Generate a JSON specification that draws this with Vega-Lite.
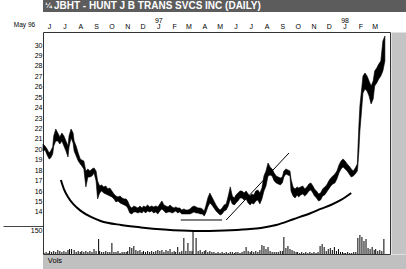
{
 "$schema": "https://vega.github.io/schema/vega-lite/v6.json",
 "padding": 0,
 "background": "white",
 "config": {"font": "Liberation Sans", "view": {"stroke": null}, "axisY": {"labelOverlap": false, "minExtent": 0}, "axisX": {"labelOverlap": false}},
 "datasets": {
  "price": [
   {"d":"1996-05-20","h":20.51,"l":19.84},{"d":"1996-05-24","h":20.32,"l":19.94},{"d":"1996-05-28","h":20.04,"l":19.46},{"d":"1996-06-01","h":19.65,"l":19.08},{"d":"1996-06-04","h":19.84,"l":19.17},{"d":"1996-06-08","h":20.23,"l":19.56},{"d":"1996-06-10","h":21.28,"l":20.32},{"d":"1996-06-14","h":21.95,"l":20.80},{"d":"1996-06-18","h":21.57,"l":20.80},{"d":"1996-06-22","h":21.19,"l":20.51},{"d":"1996-06-26","h":21.57,"l":20.80},{"d":"1996-06-30","h":21.28,"l":20.32},{"d":"1996-07-04","h":20.80,"l":19.84},{"d":"1996-07-08","h":20.32,"l":19.27},{"d":"1996-07-10","h":21.28,"l":20.23},{"d":"1996-07-14","h":21.95,"l":21.09},{"d":"1996-07-18","h":21.57,"l":20.61},{"d":"1996-07-20","h":20.80,"l":19.84},{"d":"1996-07-24","h":20.32,"l":19.37},{"d":"1996-07-28","h":19.65,"l":18.89},{"d":"1996-08-01","h":19.08,"l":18.60},{"d":"1996-08-04","h":18.98,"l":18.41},{"d":"1996-08-08","h":18.89,"l":18.12},{"d":"1996-08-12","h":17.93,"l":16.40},{"d":"1996-08-16","h":18.12,"l":17.35},{"d":"1996-08-20","h":17.93,"l":17.35},{"d":"1996-08-24","h":18.12,"l":17.45},{"d":"1996-08-28","h":18.22,"l":17.74},{"d":"1996-09-01","h":17.93,"l":16.97},{"d":"1996-09-04","h":16.97,"l":15.25},{"d":"1996-09-08","h":16.49,"l":15.82},{"d":"1996-09-12","h":16.59,"l":16.01},{"d":"1996-09-16","h":16.40,"l":15.82},{"d":"1996-09-20","h":16.49,"l":15.72},{"d":"1996-09-24","h":16.20,"l":15.63},{"d":"1996-09-28","h":16.30,"l":15.53},{"d":"1996-10-02","h":16.01,"l":15.44},{"d":"1996-10-06","h":15.72,"l":15.25},{"d":"1996-10-10","h":15.53,"l":14.96},{"d":"1996-10-14","h":15.44,"l":15.05},{"d":"1996-10-18","h":15.53,"l":14.86},{"d":"1996-10-22","h":15.34,"l":14.77},{"d":"1996-10-26","h":15.25,"l":14.67},{"d":"1996-10-30","h":15.25,"l":14.57},{"d":"1996-11-02","h":15.05,"l":14.38},{"d":"1996-11-06","h":14.57,"l":13.90},{"d":"1996-11-10","h":14.38,"l":13.81},{"d":"1996-11-14","h":14.57,"l":14.00},{"d":"1996-11-18","h":14.48,"l":14.00},{"d":"1996-11-22","h":14.38,"l":13.90},{"d":"1996-11-26","h":14.57,"l":14.00},{"d":"1996-11-30","h":14.38,"l":13.90},{"d":"1996-12-03","h":14.57,"l":14.10},{"d":"1996-12-07","h":14.48,"l":13.90},{"d":"1996-12-11","h":14.67,"l":14.10},{"d":"1996-12-15","h":14.48,"l":14.00},{"d":"1996-12-19","h":14.57,"l":14.10},{"d":"1996-12-23","h":14.48,"l":13.90},{"d":"1996-12-27","h":14.57,"l":14.00},{"d":"1996-12-31","h":14.48,"l":13.81},{"d":"1997-01-04","h":14.77,"l":14.10},{"d":"1997-01-08","h":15.05,"l":14.29},{"d":"1997-01-12","h":14.67,"l":14.10},{"d":"1997-01-16","h":14.57,"l":13.90},{"d":"1997-01-20","h":14.48,"l":14.00},{"d":"1997-01-24","h":14.67,"l":14.00},{"d":"1997-01-28","h":14.48,"l":13.90},{"d":"1997-02-01","h":14.38,"l":14.00},{"d":"1997-02-04","h":14.48,"l":14.10},{"d":"1997-02-08","h":14.38,"l":13.90},{"d":"1997-02-12","h":14.38,"l":14.00},{"d":"1997-02-16","h":14.19,"l":13.81},{"d":"1997-02-20","h":14.29,"l":13.81},{"d":"1997-02-24","h":14.19,"l":13.81},{"d":"1997-02-28","h":14.19,"l":13.81},{"d":"1997-03-04","h":14.29,"l":13.81},{"d":"1997-03-08","h":14.48,"l":13.90},{"d":"1997-03-12","h":14.57,"l":14.00},{"d":"1997-03-16","h":14.48,"l":13.90},{"d":"1997-03-20","h":14.38,"l":13.90},{"d":"1997-03-24","h":14.38,"l":13.81},{"d":"1997-03-28","h":14.29,"l":13.81},{"d":"1997-04-01","h":14.10,"l":13.62},{"d":"1997-04-04","h":14.57,"l":13.90},{"d":"1997-04-08","h":15.34,"l":14.48},{"d":"1997-04-12","h":15.82,"l":14.86},{"d":"1997-04-16","h":15.44,"l":14.67},{"d":"1997-04-20","h":15.05,"l":14.38},{"d":"1997-04-24","h":14.67,"l":14.10},{"d":"1997-04-28","h":14.38,"l":13.90},{"d":"1997-05-02","h":14.19,"l":13.71},{"d":"1997-05-06","h":14.38,"l":13.81},{"d":"1997-05-10","h":14.67,"l":14.10},{"d":"1997-05-14","h":14.77,"l":14.19},{"d":"1997-05-18","h":15.53,"l":14.57},{"d":"1997-05-22","h":16.40,"l":15.25},{"d":"1997-05-26","h":15.53,"l":14.77},{"d":"1997-05-30","h":15.34,"l":14.67},{"d":"1997-06-02","h":15.63,"l":14.86},{"d":"1997-06-06","h":15.82,"l":15.05},{"d":"1997-06-10","h":16.01,"l":15.34},{"d":"1997-06-14","h":16.01,"l":15.34},{"d":"1997-06-18","h":15.82,"l":15.15},{"d":"1997-06-22","h":16.01,"l":15.25},{"d":"1997-06-26","h":15.72,"l":14.86},{"d":"1997-06-30","h":15.53,"l":14.67},{"d":"1997-07-03","h":15.72,"l":14.86},{"d":"1997-07-07","h":15.63,"l":14.77},{"d":"1997-07-11","h":16.01,"l":15.05},{"d":"1997-07-15","h":16.11,"l":15.15},{"d":"1997-07-19","h":15.82,"l":14.77},{"d":"1997-07-23","h":16.30,"l":15.25},{"d":"1997-07-27","h":17.45,"l":16.01},{"d":"1997-07-31","h":17.93,"l":16.49},{"d":"1997-08-04","h":18.69,"l":17.45},{"d":"1997-08-08","h":18.31,"l":17.54},{"d":"1997-08-12","h":18.12,"l":17.45},{"d":"1997-08-16","h":17.74,"l":16.97},{"d":"1997-08-20","h":17.45,"l":16.78},{"d":"1997-08-24","h":17.35,"l":16.68},{"d":"1997-08-28","h":17.26,"l":16.59},{"d":"1997-09-01","h":17.35,"l":16.78},{"d":"1997-09-04","h":17.93,"l":17.35},{"d":"1997-09-08","h":18.12,"l":17.64},{"d":"1997-09-12","h":18.02,"l":17.54},{"d":"1997-09-16","h":17.93,"l":17.45},{"d":"1997-09-18","h":17.16,"l":16.01},{"d":"1997-09-22","h":16.40,"l":15.53},{"d":"1997-09-26","h":16.20,"l":15.34},{"d":"1997-09-30","h":16.40,"l":15.63},{"d":"1997-10-03","h":16.30,"l":15.44},{"d":"1997-10-07","h":16.40,"l":15.63},{"d":"1997-10-11","h":16.49,"l":15.72},{"d":"1997-10-15","h":16.20,"l":15.53},{"d":"1997-10-19","h":16.40,"l":15.72},{"d":"1997-10-23","h":16.68,"l":16.01},{"d":"1997-10-27","h":16.78,"l":16.11},{"d":"1997-10-31","h":16.49,"l":15.82},{"d":"1997-11-03","h":16.20,"l":15.53},{"d":"1997-11-07","h":16.01,"l":15.34},{"d":"1997-11-11","h":15.72,"l":15.05},{"d":"1997-11-15","h":15.82,"l":15.15},{"d":"1997-11-19","h":16.20,"l":15.53},{"d":"1997-11-23","h":16.40,"l":15.63},{"d":"1997-11-27","h":16.59,"l":15.92},{"d":"1997-12-01","h":16.97,"l":16.20},{"d":"1997-12-05","h":17.26,"l":16.49},{"d":"1997-12-09","h":17.45,"l":16.68},{"d":"1997-12-13","h":17.64,"l":16.78},{"d":"1997-12-17","h":17.93,"l":17.16},{"d":"1997-12-21","h":18.50,"l":17.74},{"d":"1997-12-25","h":18.89,"l":18.12},{"d":"1997-12-29","h":19.08,"l":18.31},{"d":"1998-01-02","h":18.89,"l":18.12},{"d":"1998-01-06","h":18.60,"l":17.93},{"d":"1998-01-10","h":18.41,"l":17.64},{"d":"1998-01-14","h":18.12,"l":17.35},{"d":"1998-01-18","h":17.93,"l":17.45},{"d":"1998-01-22","h":18.22,"l":17.64},{"d":"1998-01-26","h":18.60,"l":17.93},{"d":"1998-01-27","h":19.84,"l":18.41},{"d":"1998-01-29","h":22.24,"l":19.84},{"d":"1998-01-31","h":24.15,"l":21.76},{"d":"1998-02-04","h":26.07,"l":24.15},{"d":"1998-02-06","h":27.03,"l":25.40},{"d":"1998-02-10","h":27.32,"l":25.78},{"d":"1998-02-14","h":27.03,"l":25.59},{"d":"1998-02-18","h":26.55,"l":25.11},{"d":"1998-02-22","h":26.07,"l":24.35},{"d":"1998-02-26","h":26.55,"l":24.83},{"d":"1998-03-01","h":27.51,"l":26.07},{"d":"1998-03-05","h":27.80,"l":26.36},{"d":"1998-03-09","h":28.18,"l":26.74},{"d":"1998-03-13","h":28.47,"l":27.03},{"d":"1998-03-17","h":30.38,"l":27.51},{"d":"1998-03-21","h":30.86,"l":28.47}
  ],
  "vol": [
   {"d":"1996-05-22","v":5},{"d":"1996-05-26","v":11},{"d":"1996-05-30","v":5},{"d":"1996-06-02","v":16},{"d":"1996-06-06","v":11},{"d":"1996-06-10","v":16},{"d":"1996-06-14","v":11},{"d":"1996-06-18","v":21},{"d":"1996-06-22","v":16},{"d":"1996-06-26","v":11},{"d":"1996-06-30","v":16},{"d":"1996-07-04","v":11},{"d":"1996-07-08","v":21},{"d":"1996-07-11","v":27},{"d":"1996-07-15","v":27},{"d":"1996-07-20","v":21},{"d":"1996-07-24","v":11},{"d":"1996-07-28","v":16},{"d":"1996-08-01","v":11},{"d":"1996-08-04","v":16},{"d":"1996-08-08","v":11},{"d":"1996-08-12","v":16},{"d":"1996-08-16","v":11},{"d":"1996-08-20","v":16},{"d":"1996-08-24","v":11},{"d":"1996-08-28","v":27},{"d":"1996-09-01","v":16},{"d":"1996-09-06","v":80},{"d":"1996-09-08","v":16},{"d":"1996-09-12","v":11},{"d":"1996-09-16","v":11},{"d":"1996-09-20","v":16},{"d":"1996-09-24","v":11},{"d":"1996-09-28","v":11},{"d":"1996-10-02","v":59},{"d":"1996-10-06","v":11},{"d":"1996-10-10","v":11},{"d":"1996-10-14","v":16},{"d":"1996-10-18","v":5},{"d":"1996-10-22","v":11},{"d":"1996-10-26","v":11},{"d":"1996-10-30","v":11},{"d":"1996-11-02","v":16},{"d":"1996-11-06","v":38},{"d":"1996-11-10","v":32},{"d":"1996-11-14","v":43},{"d":"1996-11-18","v":21},{"d":"1996-11-22","v":16},{"d":"1996-11-26","v":21},{"d":"1996-11-30","v":11},{"d":"1996-12-03","v":16},{"d":"1996-12-07","v":11},{"d":"1996-12-11","v":16},{"d":"1996-12-15","v":11},{"d":"1996-12-19","v":16},{"d":"1996-12-23","v":11},{"d":"1996-12-27","v":16},{"d":"1996-12-31","v":21},{"d":"1997-01-04","v":16},{"d":"1997-01-08","v":21},{"d":"1997-01-12","v":11},{"d":"1997-01-16","v":21},{"d":"1997-01-20","v":16},{"d":"1997-01-24","v":27},{"d":"1997-01-28","v":11},{"d":"1997-02-01","v":16},{"d":"1997-02-04","v":11},{"d":"1997-02-08","v":38},{"d":"1997-02-12","v":11},{"d":"1997-02-16","v":16},{"d":"1997-02-20","v":86},{"d":"1997-02-24","v":16},{"d":"1997-02-28","v":59},{"d":"1997-03-04","v":16},{"d":"1997-03-08","v":16},{"d":"1997-03-10","v":118},{"d":"1997-03-16","v":86},{"d":"1997-03-20","v":16},{"d":"1997-03-24","v":21},{"d":"1997-03-28","v":11},{"d":"1997-04-01","v":16},{"d":"1997-04-04","v":21},{"d":"1997-04-08","v":11},{"d":"1997-04-12","v":16},{"d":"1997-04-16","v":11},{"d":"1997-04-20","v":11},{"d":"1997-04-24","v":5},{"d":"1997-04-28","v":11},{"d":"1997-05-02","v":5},{"d":"1997-05-06","v":11},{"d":"1997-05-10","v":5},{"d":"1997-05-14","v":11},{"d":"1997-05-18","v":5},{"d":"1997-05-22","v":11},{"d":"1997-05-26","v":11},{"d":"1997-05-30","v":5},{"d":"1997-06-02","v":11},{"d":"1997-06-06","v":11},{"d":"1997-06-10","v":5},{"d":"1997-06-14","v":11},{"d":"1997-06-18","v":16},{"d":"1997-06-22","v":38},{"d":"1997-06-26","v":16},{"d":"1997-06-30","v":11},{"d":"1997-07-03","v":16},{"d":"1997-07-07","v":11},{"d":"1997-07-11","v":16},{"d":"1997-07-15","v":11},{"d":"1997-07-19","v":21},{"d":"1997-07-23","v":48},{"d":"1997-07-27","v":43},{"d":"1997-07-31","v":27},{"d":"1997-08-04","v":38},{"d":"1997-08-08","v":16},{"d":"1997-08-12","v":11},{"d":"1997-08-16","v":11},{"d":"1997-08-20","v":11},{"d":"1997-08-24","v":11},{"d":"1997-08-28","v":16},{"d":"1997-09-01","v":16},{"d":"1997-09-04","v":91},{"d":"1997-09-08","v":32},{"d":"1997-09-12","v":43},{"d":"1997-09-16","v":27},{"d":"1997-09-20","v":21},{"d":"1997-09-24","v":16},{"d":"1997-09-28","v":11},{"d":"1997-10-01","v":11},{"d":"1997-10-05","v":5},{"d":"1997-10-09","v":11},{"d":"1997-10-13","v":5},{"d":"1997-10-17","v":11},{"d":"1997-10-21","v":5},{"d":"1997-10-25","v":11},{"d":"1997-10-29","v":5},{"d":"1997-11-02","v":11},{"d":"1997-11-06","v":5},{"d":"1997-11-10","v":11},{"d":"1997-11-14","v":43},{"d":"1997-11-18","v":54},{"d":"1997-11-22","v":38},{"d":"1997-11-26","v":16},{"d":"1997-11-30","v":27},{"d":"1997-12-04","v":32},{"d":"1997-12-08","v":21},{"d":"1997-12-12","v":38},{"d":"1997-12-16","v":16},{"d":"1997-12-20","v":27},{"d":"1997-12-24","v":11},{"d":"1997-12-28","v":11},{"d":"1997-12-31","v":5},{"d":"1998-01-03","v":5},{"d":"1998-01-07","v":11},{"d":"1998-01-11","v":5},{"d":"1998-01-15","v":5},{"d":"1998-01-19","v":11},{"d":"1998-01-23","v":11},{"d":"1998-01-27","v":86},{"d":"1998-01-31","v":102},{"d":"1998-02-04","v":91},{"d":"1998-02-08","v":70},{"d":"1998-02-12","v":80},{"d":"1998-02-16","v":32},{"d":"1998-02-20","v":27},{"d":"1998-02-24","v":38},{"d":"1998-02-28","v":21},{"d":"1998-03-03","v":27},{"d":"1998-03-07","v":16},{"d":"1998-03-11","v":21},{"d":"1998-03-15","v":16},{"d":"1998-03-19","v":80}
  ],
  "arc": [
   {"d":"1996-06-24","p":17.07},{"d":"1996-06-30","p":16.20},{"d":"1996-07-08","p":15.44},{"d":"1996-07-18","p":14.77},{"d":"1996-08-02","p":14.10},{"d":"1996-08-22","p":13.52},{"d":"1996-09-10","p":13.14},{"d":"1996-10-20","p":12.75},{"d":"1996-11-28","p":12.52},{"d":"1997-01-12","p":12.32},{"d":"1997-03-12","p":12.18},{"d":"1997-05-10","p":12.23},{"d":"1997-06-25","p":12.35},{"d":"1997-07-21","p":12.47},{"d":"1997-08-20","p":12.75},{"d":"1997-09-24","p":13.33},{"d":"1997-10-27","p":13.90},{"d":"1997-11-15","p":14.29},{"d":"1997-12-05","p":14.67},{"d":"1997-12-25","p":15.15},{"d":"1998-01-14","p":15.82}
  ],
  "trend": [{"d":"1997-05-14","p":13.23},{"d":"1997-09-14","p":19.65}],
  "flat": [{"d":"1997-02-14","p":13.23},{"d":"1997-05-06","p":13.23}]
 },
 "concat": [
  {
   "width": 406, "height": 12,
   "view": {"fill": "#5c5c5c", "stroke": null},
   "data": {"values": [{}]},
   "layer": [
    {"mark": {"type": "text", "text": "JBHT - HUNT J B TRANS SVCS INC (DAILY)", "align": "left", "baseline": "middle", "color": "white", "fontSize": 10, "fontWeight": "bold", "font": "Liberation Sans"},
     "encoding": {"x": {"datum": 0.027, "type": "quantitative", "scale": {"domain": [0, 1], "nice": false, "zero": false, "padding": 0}, "axis": null}, "y": {"datum": 0.5, "type": "quantitative", "scale": {"domain": [0, 1]}, "axis": null}}},
    {"mark": {"type": "text", "text": "¼", "align": "center", "baseline": "middle", "color": "white", "fontSize": 8, "fontWeight": "bold", "font": "Liberation Sans"},
     "encoding": {"x": {"datum": 0.013, "type": "quantitative"}, "y": {"datum": 0.5, "type": "quantitative"}}},
    {"mark": {"type": "square", "size": 64, "filled": true, "color": "#d4d4d4", "stroke": "#222222", "strokeWidth": 0.5, "opacity": 1},
     "encoding": {"x": {"datum": 0.9212, "type": "quantitative"}, "y": {"datum": 0.5, "type": "quantitative"}}},
    {"mark": {"type": "square", "size": 64, "filled": true, "color": "#d4d4d4", "stroke": "#222222", "strokeWidth": 0.5, "opacity": 1},
     "encoding": {"x": {"datum": 0.9458, "type": "quantitative"}, "y": {"datum": 0.5, "type": "quantitative"}}},
    {"mark": {"type": "square", "size": 64, "filled": true, "color": "#d4d4d4", "stroke": "#222222", "strokeWidth": 0.5, "opacity": 1},
     "encoding": {"x": {"datum": 0.9704, "type": "quantitative"}, "y": {"datum": 0.5, "type": "quantitative"}}}
   ]
  },
  {
   "width": 347, "height": 222,
   "view": {"stroke": "#333333", "strokeWidth": 1, "fill": "white"},
   "layer": [
    {
     "layer": [
      {
       "data": {"name": "price"},
       "mark": {"type": "area", "color": "black", "stroke": "black", "strokeWidth": 0.6},
       "encoding": {
        "x": {"field": "d", "type": "temporal",
         "scale": {"type": "utc", "nice": false, "padding": 0, "domain": [{"year": 1996, "month": 5, "date": 20, "utc": true}, {"year": 1998, "month": 3, "date": 31, "utc": true}]},
         "axis": {"orient": "top", "title": "May 96", "titleX": -19, "titleY": -5, "titleAlign": "center", "titleBaseline": "bottom", "titleFontSize": 6.5, "titleFontWeight": "normal", "titleColor": "black", "tickCount": {"interval": "month", "step": 1}, "labelExpr": "[utcFormat(datum.value, '%m') == '01' ? utcFormat(datum.value, '%y') : '', slice(utcFormat(datum.value, '%b'), 0, 1)]", "labelFontSize": 7, "labelColor": "black", "labelPadding": 16, "labelBaseline": "top", "labelLineHeight": 6.5, "labelOverlap": false, "labelFlush": false, "labelBound": false, "ticks": false, "tickSize": 0, "domain": false, "grid": false, "minExtent": 19, "maxExtent": 19}},
        "y": {"field": "h", "type": "quantitative", "scale": {"domain": [9.97, 31.25], "nice": false, "zero": false},
         "axis": {"title": null, "values": [14,15,16,17,18,19,20,21,22,23,24,25,26,27,28,29,30], "format": "d", "tickCount": 40, "labelFontSize": 7, "labelColor": "black", "labelOverlap": false, "labelSeparation": 0, "ticks": false, "tickSize": 0, "labelPadding": 1, "domain": false, "grid": false, "minExtent": 42, "maxExtent": 42}},
        "y2": {"field": "l"}
       }
      },
      {
       "data": {"name": "arc"},
       "mark": {"type": "line", "interpolate": "monotone", "color": "black", "strokeWidth": 2},
       "encoding": {"x": {"field": "d", "type": "temporal"}, "y": {"field": "p", "type": "quantitative"}}
      },
      {
       "data": {"name": "trend"},
       "mark": {"type": "line", "color": "black", "strokeWidth": 1},
       "encoding": {"x": {"field": "d", "type": "temporal"}, "y": {"field": "p", "type": "quantitative"}}
      },
      {
       "data": {"name": "flat"},
       "mark": {"type": "line", "color": "black", "strokeWidth": 1},
       "encoding": {"x": {"field": "d", "type": "temporal"}, "y": {"field": "p", "type": "quantitative"}}
      }
     ]
    },
    {
     "data": {"name": "vol"},
     "mark": {"type": "bar", "color": "black", "width": 1},
     "encoding": {
      "x": {"field": "d", "type": "temporal"},
      "y": {"field": "v", "type": "quantitative", "scale": {"domain": [0, 1189.3], "nice": false},
       "axis": {"orient": "left", "title": null, "values": [150], "format": "d", "tickCount": 10, "labelFontSize": 7, "labelColor": "black", "ticks": true, "tickSize": 40, "tickColor": "#444444", "labelPadding": -39, "labelBaseline": "top", "labelAlign": "right", "domain": false, "grid": false, "minExtent": 42, "maxExtent": 42}}
     }
    },
    {
     "data": {"values": [{}]},
     "mark": {"type": "point", "opacity": 0},
     "encoding": {
      "x": {"datum": {"year": 1997, "month": 1, "date": 1, "utc": true}, "type": "temporal"},
      "y": {"datum": 0.5, "type": "quantitative", "scale": {"domain": [0, 1]},
       "axis": {"orient": "right", "title": null, "labels": false, "ticks": false, "grid": false, "domain": true, "domainWidth": 16, "domainColor": "#c4c4c4", "domainCap": "butt", "offset": 9, "minExtent": 0, "maxExtent": 0}}
     }
    }
   ],
   "resolve": {"scale": {"y": "independent"}}
  },
  {
   "width": 406, "height": 16,
   "view": {"fill": "#c0c0c0", "stroke": null},
   "data": {"values": [{}]},
   "mark": {"type": "text", "text": "Vols", "align": "left", "baseline": "middle", "color": "black", "fontSize": 7.5, "font": "Liberation Sans"},
   "encoding": {"x": {"datum": 0.012, "type": "quantitative", "scale": {"domain": [0, 1], "nice": false, "zero": false}, "axis": null}, "y": {"datum": 0.62, "type": "quantitative", "scale": {"domain": [0, 1]}, "axis": null}}
  }
 ],
 "columns": 1,
 "align": "none",
 "spacing": 0
}
